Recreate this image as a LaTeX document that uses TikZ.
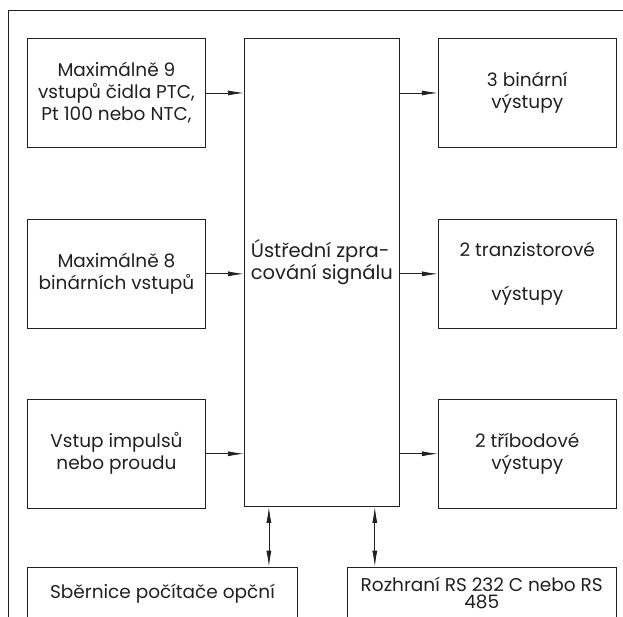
\documentclass[tikz,border=0pt]{standalone}
\usepackage{fontspec}
\setmainfont{Poppins}
\usepackage{xcolor}
\definecolor{linka}{RGB}{35, 31, 32}
\usepackage{tikz}
\usetikzlibrary{positioning, arrows.meta}

\begin{document}
\begin{tikzpicture}[x=1pt, y=1pt,
  blok/.style={rectangle, draw=linka, text=linka, line width=0.9pt, font=\fontsize{18.5}{22}\selectfont, align=center, minimum width=178pt, minimum height=109pt, inner sep=0pt},
  jadro/.style={blok, minimum width=155pt, minimum height=468pt},
  spodni/.style={blok, minimum height=0pt},
  popis/.style={text=linka, font=\fontsize{19.5}{22}\selectfont, align=left, inner sep=0pt},
  sipka/.style={draw=linka, line width=0.8pt, -{Latex[length=16pt, width=5pt]}},
  obousipka/.style={sipka, {Latex[length=16pt, width=5pt]}-{Latex[length=16pt, width=5pt]}}
]
  \useasboundingbox (0,0) rectangle (623,-616);
  \clip (0,0) rectangle (623,-616);
  \draw[draw=linka, line width=0.9pt] (8,-640) |- (640,-10);

  \node[blok, anchor=north west] (vstup1) at (27,-38) {Maximálně 9\\vstupů čidla PTC,\\Pt 100 nebo NTC,};
  \node[blok, below=71pt of vstup1] (vstup2) {Maximálně 8\\binárních vstupů};
  \node[blok, below=70pt of vstup2] (vstup3) {Vstup impulsů\\nebo proudu};

  \node[jadro, right=38pt of vstup1.north east, anchor=north west] (cpu) {};
  \node[popis] (cpu-popis) at ([yshift=10pt]cpu.center) {Ústřední zpra-\\cování signálu};

  \node[blok, right=38pt of cpu.north east, anchor=north west] (vystup1) {3 binární\\výstupy};
  \node[blok, below=71pt of vystup1] (vystup2) {2 tranzistorové\\[22pt]výstupy};
  \node[blok, below=70pt of vystup2] (vystup3) {2 tříbodové\\výstupy};

  \node[spodni, minimum width=270pt, inner ysep=17pt, text height=14pt, text depth=20pt, below=58pt of vstup3.south west, anchor=north west] (sbernice) {Sběrnice počítače opční};
  \node[spodni, minimum width=269pt, inner ysep=10pt, below=58pt of vystup3.south east, anchor=north east] (rozhrani) {Rozhraní RS 232 C nebo RS\\[-5pt]485};

  \draw[sipka] (vstup1.east) -- (vstup1.east -| cpu.west);
  \draw[sipka] (vstup2.east) -- (vstup2.east -| cpu.west);
  \draw[sipka] (vstup3.east) -- (vstup3.east -| cpu.west);
  \draw[sipka] (vystup1.west -| cpu.east) -- (vystup1.west);
  \draw[sipka] (vystup2.west -| cpu.east) -- (vystup2.west);
  \draw[sipka] (vystup3.west -| cpu.east) -- (vystup3.west);
  \draw[obousipka] ([xshift=25pt]cpu.south west) -- ([xshift=25pt]cpu.south west |- sbernice.north);
  \draw[obousipka] ([xshift=-25pt]cpu.south east) -- ([xshift=-25pt]cpu.south east |- rozhrani.north);
\end{tikzpicture}
\end{document}
